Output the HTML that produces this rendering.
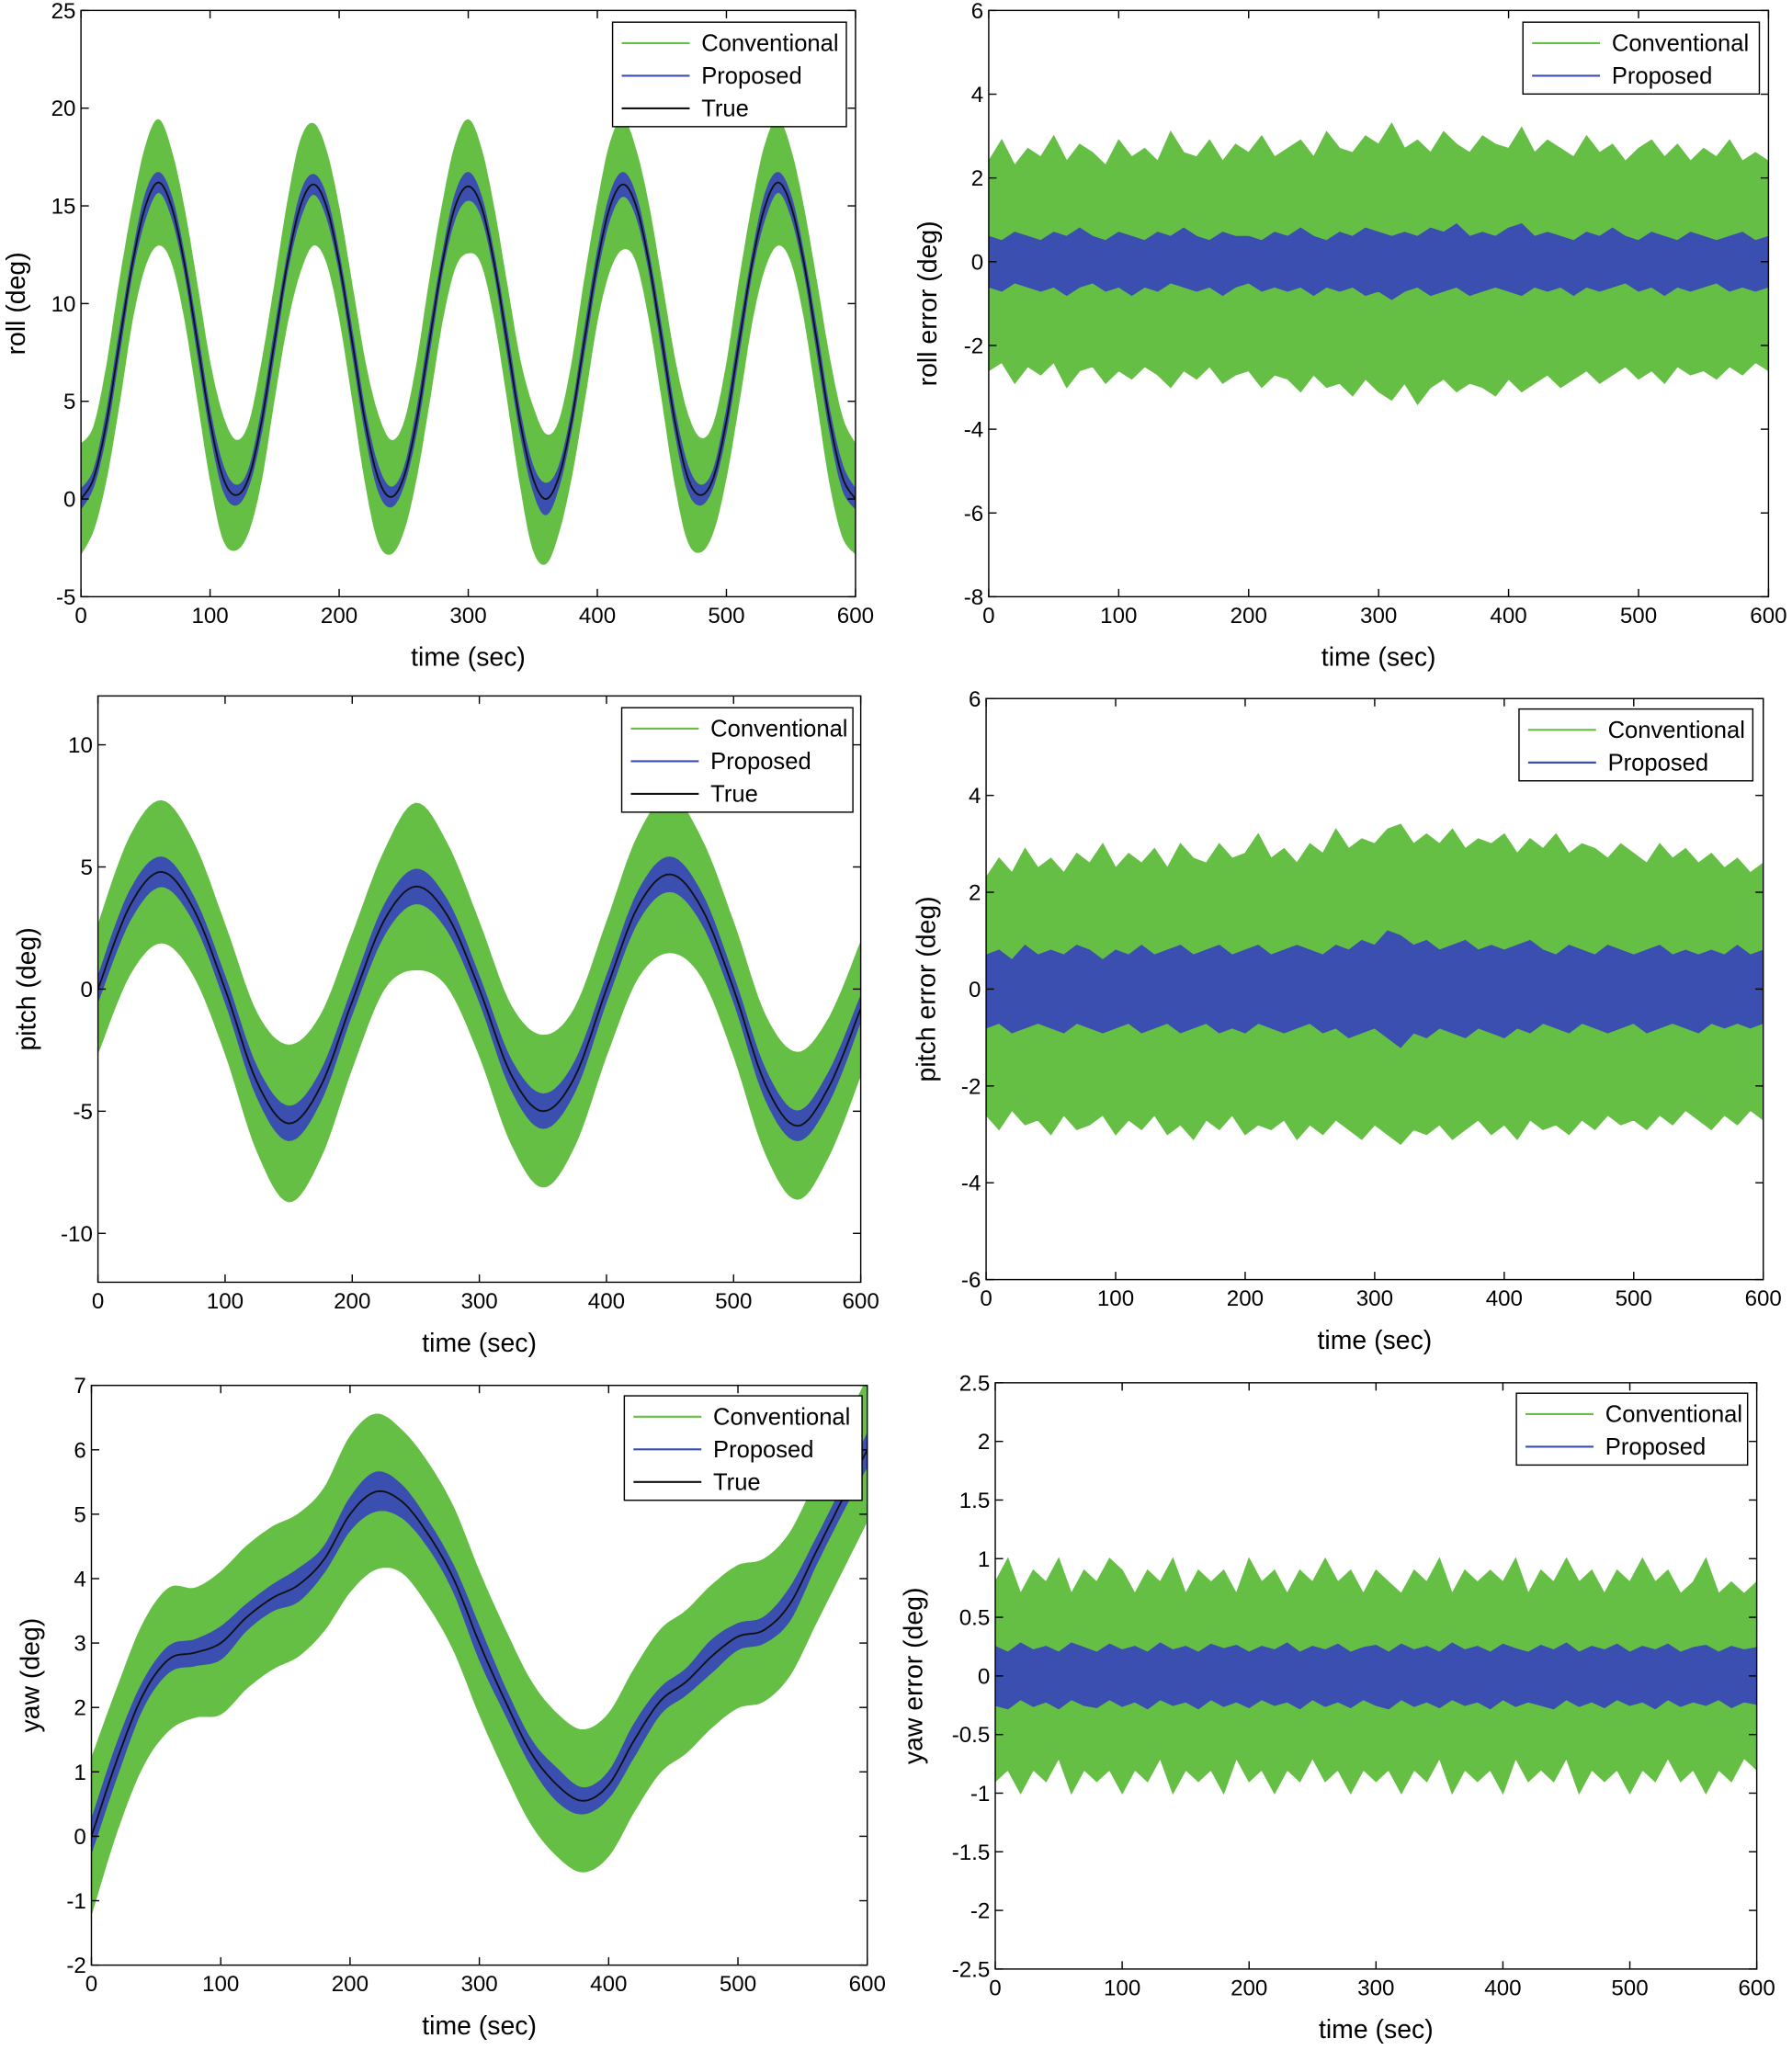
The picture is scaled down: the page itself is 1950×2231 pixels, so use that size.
<!DOCTYPE html>
<html><head><meta charset="utf-8"><style>
body{margin:0;background:#fff}
svg{display:block}
text{font-family:"Liberation Sans",sans-serif;fill:#000}
</style></head><body>
<svg id="fig" xmlns="http://www.w3.org/2000/svg" width="1950" height="2231" viewBox="0 0 1372 1570" preserveAspectRatio="none"></svg>
<script>
// ---- data ----
const timeRoll=[0,10,20,30,40,50,60,70,80,90,100,110,120,130,140,150,160,170,180,190,200,210,220,230,240,250,260,270,280,290,300,310,320,330,340,350,360,370,380,390,400,410,420,430,440,450,460,470,480,490,500,510,520,530,540,550,560,570,580,590,600];
const rollTrue=[0,1.1,4,8.1,12.1,15,16.2,15,12.1,8.1,4,1.1,0.2,1.1,4,8.1,12.1,15,16.1,15,12.1,8.1,4,1.1,0.1,1.1,4,8.1,12.1,15,16,15,12.1,8.1,4,1.1,0,1.1,4,8.1,12.1,15,16.1,15,12.1,8.1,4,1.1,0.2,1.1,4,8.1,12.1,15,16.2,15,12.1,8.1,4,1.1,0];
const rollConvSpread=[2.8,2.6,2.8,3,2.8,3,3.2,2.8,2.7,2.8,2.9,3.1,2.8,2.7,2.9,2.8,3,3.3,3.1,2.8,2.7,2.8,3,3.2,2.9,2.7,2.8,3,2.9,3.1,3.4,2.9,2.7,2.8,3.1,3.6,3.3,2.8,2.8,3,2.9,3.2,3.3,2.8,2.8,2.9,3.1,3.2,2.9,2.7,2.8,3,2.9,3.1,3.2,2.8,2.7,2.9,3.1,3,2.8];
const rollPropSpread=[0.5,0.4,0.5,0.5,0.4,0.6,0.5,0.5,0.4,0.5,0.5,0.6,0.5,0.4,0.5,0.5,0.4,0.6,0.5,0.5,0.4,0.5,0.5,0.6,0.5,0.4,0.5,0.5,0.4,0.6,0.7,0.5,0.4,0.5,0.5,0.6,0.8,0.5,0.4,0.5,0.5,0.6,0.6,0.5,0.4,0.5,0.5,0.6,0.5,0.4,0.5,0.5,0.4,0.6,0.5,0.5,0.4,0.5,0.5,0.6,0.5];

const timePitch=[0,25,50,75,100,125,150,175,200,225,250,275,300,325,350,375,400,425,450,475,500,525,550,575,600];
const pitchTrue=[0,3.4,4.8,3.3,0,-3.8,-5.5,-4,-0.5,2.8,4.2,3,0,-3.5,-5,-3.6,0,3.4,4.7,3.3,0,-3.9,-5.6,-4,-0.8];
const pitchConvSpread=[2.6,2.8,2.9,2.7,2.6,2.8,3.2,2.9,2.7,2.8,3.4,2.9,2.7,2.8,3.1,2.8,2.7,2.9,3.2,2.8,2.7,2.8,3,2.8,2.7];
const pitchPropSpread=[0.5,0.6,0.6,0.5,0.5,0.6,0.7,0.6,0.5,0.6,0.7,0.6,0.5,0.6,0.7,0.6,0.5,0.6,0.7,0.6,0.5,0.6,0.6,0.6,0.5];

const timeYaw=[0,20,40,60,80,100,120,140,160,180,200,220,240,260,280,300,320,340,360,380,400,420,440,460,480,500,520,540,560,580,600];
const yawTrue=[0,1.2,2.2,2.75,2.85,3,3.4,3.7,3.9,4.3,5,5.35,5.2,4.7,4,3,2.1,1.3,0.8,0.55,0.8,1.5,2.1,2.4,2.8,3.1,3.2,3.6,4.4,5.2,6];
const yawConvSpread=[1.2,1.1,1.1,1.1,1,1.1,1.1,1.1,1.1,1.1,1.2,1.2,1.1,1.1,1.1,1.1,1.1,1.1,1.1,1.1,1.1,1.1,1.1,1.1,1.1,1.1,1.1,1.1,1.1,1.1,1.1];
const yawPropSpread=[0.25,0.25,0.2,0.2,0.2,0.25,0.2,0.2,0.25,0.2,0.25,0.3,0.25,0.2,0.2,0.25,0.2,0.2,0.25,0.2,0.2,0.25,0.2,0.2,0.25,0.2,0.2,0.25,0.2,0.2,0.25];

const timeErr=[0,10,20,30,40,50,60,70,80,90,100,110,120,130,140,150,160,170,180,190,200,210,220,230,240,250,260,270,280,290,300,310,320,330,340,350,360,370,380,390,400,410,420,430,440,450,460,470,480,490,500,510,520,530,540,550,560,570,580,590,600];
const rollErrConvUp=[2.4,2.9,2.3,2.7,2.5,3,2.4,2.8,2.6,2.3,2.9,2.5,2.7,2.4,3.1,2.6,2.5,2.9,2.4,2.8,2.6,3,2.5,2.7,2.9,2.5,3.1,2.7,2.6,3,2.8,3.3,2.7,2.9,2.6,3.1,2.8,2.6,3,2.8,2.7,3.2,2.6,2.9,2.7,2.5,3,2.6,2.8,2.4,2.7,2.9,2.5,2.8,2.4,2.7,2.5,2.9,2.4,2.6,2.4];
const rollErrConvLo=[-2.6,-2.4,-2.9,-2.5,-2.7,-2.4,-3,-2.6,-2.5,-2.9,-2.6,-2.8,-2.5,-2.7,-3,-2.6,-2.8,-2.5,-2.9,-2.7,-2.6,-3,-2.7,-2.8,-3.1,-2.7,-3,-2.9,-3.2,-2.8,-3.1,-3.3,-2.9,-3.4,-3,-2.8,-3.1,-2.9,-3,-3.2,-2.8,-3.1,-2.9,-2.7,-3,-2.8,-2.6,-2.9,-2.7,-2.5,-2.8,-2.6,-2.9,-2.5,-2.7,-2.6,-2.8,-2.5,-2.7,-2.4,-2.6];
const rollErrPropUp=[0.6,0.5,0.7,0.6,0.5,0.7,0.6,0.8,0.6,0.5,0.7,0.6,0.5,0.7,0.6,0.8,0.6,0.5,0.7,0.6,0.6,0.5,0.7,0.6,0.8,0.6,0.5,0.7,0.6,0.8,0.7,0.6,0.7,0.6,0.8,0.7,0.9,0.6,0.7,0.6,0.8,0.9,0.6,0.7,0.6,0.5,0.7,0.6,0.8,0.6,0.5,0.7,0.6,0.5,0.7,0.6,0.5,0.6,0.7,0.5,0.6];
const rollErrPropLo=[-0.6,-0.7,-0.5,-0.6,-0.7,-0.6,-0.8,-0.6,-0.5,-0.7,-0.6,-0.8,-0.6,-0.7,-0.5,-0.6,-0.7,-0.6,-0.8,-0.6,-0.5,-0.7,-0.6,-0.7,-0.6,-0.8,-0.6,-0.7,-0.6,-0.8,-0.7,-0.9,-0.7,-0.6,-0.8,-0.7,-0.6,-0.8,-0.7,-0.6,-0.7,-0.8,-0.6,-0.7,-0.6,-0.8,-0.6,-0.7,-0.6,-0.5,-0.7,-0.6,-0.8,-0.6,-0.7,-0.6,-0.5,-0.7,-0.6,-0.7,-0.6];
const pitchErrConvUp=[2.3,2.7,2.4,2.9,2.5,2.7,2.4,2.8,2.6,3,2.5,2.8,2.6,2.9,2.5,3,2.7,2.6,3,2.7,2.8,3.2,2.7,2.9,2.6,3,2.8,3.3,2.9,3.1,3,3.3,3.4,3,3.2,3,3.3,2.9,3.1,3,3.2,2.8,3.1,2.9,3.2,2.8,3,2.9,2.7,3,2.8,2.6,3,2.7,2.9,2.6,2.8,2.5,2.7,2.4,2.6];
const pitchErrConvLo=[-2.6,-2.9,-2.5,-2.8,-2.7,-3,-2.6,-2.9,-2.8,-2.6,-3,-2.7,-2.9,-2.6,-3,-2.8,-3.1,-2.7,-2.9,-2.6,-3,-2.8,-2.9,-2.7,-3.1,-2.8,-3,-2.7,-2.9,-3.1,-2.8,-3,-3.2,-2.9,-3,-2.8,-3.1,-2.9,-2.7,-3,-2.8,-3.1,-2.7,-2.9,-2.8,-3,-2.7,-2.9,-2.6,-2.8,-2.7,-2.9,-2.6,-2.8,-2.5,-2.7,-2.9,-2.6,-2.8,-2.5,-2.7];
const pitchErrPropUp=[0.7,0.8,0.6,0.9,0.7,0.8,0.7,0.9,0.8,0.6,0.8,0.7,0.9,0.7,0.8,0.9,0.7,0.8,0.9,0.7,0.8,0.9,0.7,0.8,0.9,0.8,0.7,0.9,0.8,1,0.9,1.2,1.1,0.9,1,0.8,0.9,1,0.8,0.9,0.8,0.9,1,0.8,0.7,0.9,0.8,0.7,0.9,0.8,0.7,0.8,0.9,0.7,0.8,0.7,0.8,0.7,0.9,0.7,0.8];
const pitchErrPropLo=[-0.8,-0.7,-0.9,-0.8,-0.7,-0.8,-0.9,-0.7,-0.8,-0.9,-0.8,-0.7,-0.9,-0.8,-0.7,-0.9,-0.8,-0.7,-0.9,-0.8,-0.9,-0.7,-0.8,-0.9,-0.8,-0.7,-0.9,-0.8,-1,-0.9,-0.8,-1,-1.2,-0.9,-1,-0.8,-0.9,-1,-0.8,-0.9,-1,-0.8,-0.9,-0.7,-0.8,-0.9,-0.7,-0.8,-0.9,-0.8,-0.7,-0.9,-0.8,-0.7,-0.8,-0.9,-0.7,-0.8,-0.7,-0.8,-0.7];
const yawErrConvUp=[0.8,1,0.7,0.9,0.8,1,0.7,0.9,0.8,1,0.9,0.7,0.9,0.8,1,0.7,0.9,0.8,0.9,0.7,1,0.8,0.9,0.7,0.9,0.8,1,0.8,0.9,0.7,0.9,0.8,0.7,0.9,0.8,1,0.7,0.9,0.8,0.9,0.8,1,0.7,0.9,0.8,1,0.8,0.9,0.7,0.9,0.8,1,0.8,0.9,0.7,0.8,1,0.7,0.8,0.7,0.8];
const yawErrConvLo=[-0.9,-0.8,-1,-0.8,-0.9,-0.7,-1,-0.8,-0.9,-0.8,-1,-0.8,-0.9,-0.7,-1,-0.8,-0.9,-0.8,-1,-0.7,-0.9,-0.8,-1,-0.8,-0.9,-0.7,-0.9,-0.8,-1,-0.8,-0.9,-0.8,-1,-0.8,-0.9,-0.7,-1,-0.8,-0.9,-0.8,-1,-0.7,-0.9,-0.8,-0.9,-0.7,-1,-0.8,-0.9,-0.8,-1,-0.8,-0.9,-0.7,-0.9,-0.8,-1,-0.8,-0.9,-0.7,-0.8];
const yawErrPropUp=[0.25,0.2,0.28,0.22,0.25,0.2,0.28,0.24,0.2,0.27,0.22,0.25,0.2,0.28,0.22,0.25,0.2,0.27,0.23,0.26,0.2,0.25,0.22,0.28,0.2,0.25,0.22,0.27,0.2,0.24,0.26,0.2,0.27,0.22,0.25,0.2,0.28,0.22,0.25,0.2,0.27,0.23,0.2,0.26,0.22,0.28,0.2,0.25,0.22,0.27,0.2,0.25,0.22,0.27,0.2,0.24,0.26,0.2,0.25,0.22,0.24];
const yawErrPropLo=[-0.25,-0.28,-0.2,-0.26,-0.22,-0.28,-0.2,-0.25,-0.27,-0.2,-0.26,-0.22,-0.28,-0.2,-0.25,-0.22,-0.28,-0.2,-0.26,-0.22,-0.27,-0.2,-0.25,-0.22,-0.28,-0.2,-0.26,-0.22,-0.27,-0.2,-0.25,-0.28,-0.2,-0.26,-0.22,-0.27,-0.2,-0.25,-0.22,-0.28,-0.2,-0.26,-0.22,-0.25,-0.28,-0.2,-0.26,-0.22,-0.27,-0.2,-0.25,-0.22,-0.28,-0.2,-0.26,-0.22,-0.25,-0.2,-0.27,-0.22,-0.24];

const xTicks=[0,100,200,300,400,500,600];
const rollTicks=[-5,0,5,10,15,20,25];
const rollErrTicks=[-8,-6,-4,-2,0,2,4,6];
const pitchTicks=[-10,-5,0,5,10];
const pitchErrTicks=[-6,-4,-2,0,2,4,6];
const yawTicks=[-2,-1,0,1,2,3,4,5,6,7];
const yawErrTicks=[-2.5,-2,-1.5,-1,-0.5,0,0.5,1,1.5,2,2.5];

// ---- drawing ----
const NS="http://www.w3.org/2000/svg";
const svg=document.getElementById('fig');
function mk(tag,attrs,parent){const e=document.createElementNS(NS,tag);for(const k in attrs)e.setAttribute(k,attrs[k]);(parent||svg).appendChild(e);return e;}
const GREEN="#66bf45",BLUE="#3a4fb0";

// Catmull-Rom resampling of pixel points (drawing only)
function smooth(pts){
  if(pts.length<3)return pts;
  const out=[];
  for(let i=0;i<pts.length-1;i++){
    const p0=pts[Math.max(0,i-1)],p1=pts[i],p2=pts[i+1],p3=pts[Math.min(pts.length-1,i+2)];
    for(let s=0;s<8;s++){const t=s/8,t2=t*t,t3=t2*t;
      out.push([0.5*((2*p1[0])+(-p0[0]+p2[0])*t+(2*p0[0]-5*p1[0]+4*p2[0]-p3[0])*t2+(-p0[0]+3*p1[0]-3*p2[0]+p3[0])*t3),
                0.5*((2*p1[1])+(-p0[1]+p2[1])*t+(2*p0[1]-5*p1[1]+4*p2[1]-p3[1])*t2+(-p0[1]+3*p1[1]-3*p2[1]+p3[1])*t3)]);}
  }
  out.push(pts[pts.length-1]);return out;
}
function panel(p){
  const g=mk('g',{});
  
  
  const sx=v=>p.x0+(v-0)/(600)*(p.x1-p.x0);
  const sy=v=>p.y1-(v-p.ymin)/(p.ymax-p.ymin)*(p.y1-p.y0);
  const clip='c'+p.name;
  const cp=mk('clipPath',{id:clip},g);mk('rect',{x:p.x0,y:p.y0,width:p.x1-p.x0,height:p.y1-p.y0},cp);
  const band=(t,up,lo,color,nm,sm)=>{
    let U=t.map((tv,i)=>[sx(tv),sy(up[i])]),D=t.map((tv,i)=>[sx(tv),sy(lo[i])]);
    if(sm){U=smooth(U);D=smooth(D);}
    D.reverse();
    const d='M'+U.concat(D).map(q=>q[0].toFixed(1)+','+q[1].toFixed(1)).join(' L')+' Z';
    const e=mk('path',{d:d,fill:color,stroke:color,'stroke-width':1,'clip-path':'url(#'+clip+')'},g);
    
    
  };
  if(p.truth){
    band(p.t,p.truth.map((v,i)=>v+p.conv[i]),p.truth.map((v,i)=>v-p.conv[i]),GREEN,'conventional-series',true);
    band(p.t,p.truth.map((v,i)=>v+p.prop[i]),p.truth.map((v,i)=>v-p.prop[i]),BLUE,'proposed-series',true);
    const pts=smooth(p.t.map((tv,i)=>[sx(tv),sy(p.truth[i])]));
    const d='M'+pts.map(q=>q[0].toFixed(1)+','+q[1].toFixed(1)).join(' L');
    const l=mk('path',{d:d,fill:'none',stroke:'#111','stroke-width':1.3,'clip-path':'url(#'+clip+')'},g);
    
    
  }else{
    band(p.t,p.cu,p.cl,GREEN,'conventional-series',false);
    band(p.t,p.pu,p.pl,BLUE,'proposed-series',false);
  }
  mk('rect',{x:p.x0,y:p.y0,width:p.x1-p.x0,height:p.y1-p.y0,fill:'none',stroke:'#000','stroke-width':1},g);
  xTicks.forEach(v=>{const x=sx(v);
    mk('line',{x1:x,x2:x,y1:p.y1,y2:p.y1-6,stroke:'#000'},g);mk('line',{x1:x,x2:x,y1:p.y0,y2:p.y0+6,stroke:'#000'},g);
    const t=mk('text',{x:x,y:p.y1+20,'text-anchor':'middle','font-size':17},g);t.textContent=v;
    
    
  });
  p.yt.forEach(v=>{const y=sy(v);
    mk('line',{x1:p.x0,x2:p.x0+6,y1:y,y2:y,stroke:'#000'},g);mk('line',{x1:p.x1,x2:p.x1-6,y1:y,y2:y,stroke:'#000'},g);
    const t=mk('text',{x:p.x0-4,y:y+6,'text-anchor':'end','font-size':17},g);t.textContent=v;
    
    
  });
  const xl=mk('text',{x:(p.x0+p.x1)/2,y:p.y1+53,'text-anchor':'middle','font-size':20},g);xl.textContent='time (sec)';
  
  
  const yc=(p.y0+p.y1)/2;
  const yl=mk('text',{x:p.ylx,y:yc,'text-anchor':'middle','font-size':20,transform:'rotate(-90 '+p.ylx+' '+yc+')'},g);yl.textContent=p.ylabel;
  
  
  const L=p.leg;const items=p.truth?[['Conventional',GREEN],['Proposed',BLUE],['True','#111']]:[['Conventional',GREEN],['Proposed',BLUE]];
  const lg=mk('g',{},g);
  
  
  mk('rect',{x:L[0],y:L[1],width:L[2],height:items.length*25+5,fill:'#fff',stroke:'#000'},lg);
  items.forEach((it,i)=>{const y=L[1]+16+i*25;
    mk('line',{x1:L[0]+7,x2:L[0]+59,y1:y,y2:y,stroke:it[1],'stroke-width':1.5},lg);
    const t=mk('text',{x:L[0]+68,y:y+6,'font-size':18},lg);t.textContent=it[0];
    
    
  });
}
panel({name:'roll-panel',x0:62,x1:655,y0:8,y1:457,ymin:-5,ymax:25,yt:rollTicks,ylabel:'roll (deg)',ylx:19,t:timeRoll,truth:rollTrue,conv:rollConvSpread,prop:rollPropSpread,leg:[469,17,179]});
panel({name:'roll-error-panel',x0:757,x1:1354,y0:8,y1:457,ymin:-8,ymax:6,yt:rollErrTicks,ylabel:'roll error (deg)',ylx:717,t:timeErr,cu:rollErrConvUp,cl:rollErrConvLo,pu:rollErrPropUp,pl:rollErrPropLo,leg:[1166,17,181]});
panel({name:'pitch-panel',x0:75,x1:659,y0:533,y1:982,ymin:-12,ymax:12,yt:pitchTicks,ylabel:'pitch (deg)',ylx:27,t:timePitch,truth:pitchTrue,conv:pitchConvSpread,prop:pitchPropSpread,leg:[476,542,177]});
panel({name:'pitch-error-panel',x0:755,x1:1350,y0:535,y1:980,ymin:-6,ymax:6,yt:pitchErrTicks,ylabel:'pitch error (deg)',ylx:716,t:timeErr,cu:pitchErrConvUp,cl:pitchErrConvLo,pu:pitchErrPropUp,pl:pitchErrPropLo,leg:[1163,543,179]});
panel({name:'yaw-panel',x0:70,x1:664,y0:1061,y1:1505,ymin:-2,ymax:7,yt:yawTicks,ylabel:'yaw (deg)',ylx:30,t:timeYaw,truth:yawTrue,conv:yawConvSpread,prop:yawPropSpread,leg:[478,1069,182]});
panel({name:'yaw-error-panel',x0:762,x1:1345,y0:1059,y1:1508,ymin:-2.5,ymax:2.5,yt:yawErrTicks,ylabel:'yaw error (deg)',ylx:706,t:timeErr,cu:yawErrConvUp,cl:yawErrConvLo,pu:yawErrPropUp,pl:yawErrPropLo,leg:[1161,1067,177]});
</script>
</body></html>
